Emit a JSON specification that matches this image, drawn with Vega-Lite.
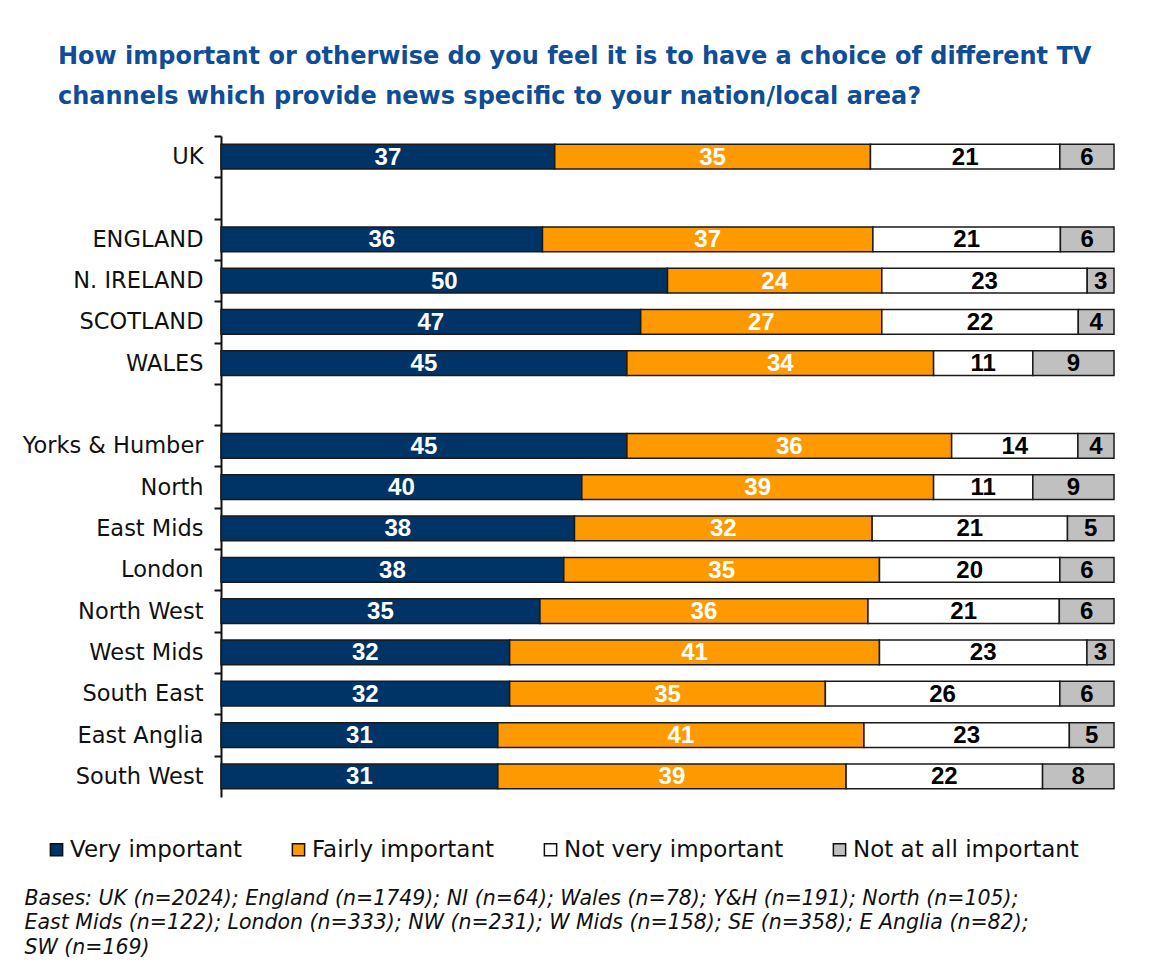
{
  "$schema": "https://vega.github.io/schema/vega-lite/v6.json",
  "width": 893,
  "height": 661,
  "autosize": {"type": "none"},
  "padding": {"left": 221, "top": 136, "right": 36, "bottom": 165},
  "background": "white",
  "title": {
    "text": ["How important or otherwise do you feel it is to have a choice of different TV", "channels which provide news specific to your nation/local area?"],
    "anchor": "start",
    "frame": "group",
    "dx": -163,
    "font": "DejaVu Sans",
    "fontWeight": "bold",
    "fontSize": 24,
    "lineHeight": 40,
    "color": "#0F4E96",
    "offset": 26
  },
  "data": {
    "values": [
      {"region": "UK", "cat": "Very important", "k": 1, "v": 37},
      {"region": "UK", "cat": "Fairly important", "k": 2, "v": 35},
      {"region": "UK", "cat": "Not very important", "k": 3, "v": 21},
      {"region": "UK", "cat": "Not at all important", "k": 4, "v": 6},
      {"region": "ENGLAND", "cat": "Very important", "k": 1, "v": 36},
      {"region": "ENGLAND", "cat": "Fairly important", "k": 2, "v": 37},
      {"region": "ENGLAND", "cat": "Not very important", "k": 3, "v": 21},
      {"region": "ENGLAND", "cat": "Not at all important", "k": 4, "v": 6},
      {"region": "N. IRELAND", "cat": "Very important", "k": 1, "v": 50},
      {"region": "N. IRELAND", "cat": "Fairly important", "k": 2, "v": 24},
      {"region": "N. IRELAND", "cat": "Not very important", "k": 3, "v": 23},
      {"region": "N. IRELAND", "cat": "Not at all important", "k": 4, "v": 3},
      {"region": "SCOTLAND", "cat": "Very important", "k": 1, "v": 47},
      {"region": "SCOTLAND", "cat": "Fairly important", "k": 2, "v": 27},
      {"region": "SCOTLAND", "cat": "Not very important", "k": 3, "v": 22},
      {"region": "SCOTLAND", "cat": "Not at all important", "k": 4, "v": 4},
      {"region": "WALES", "cat": "Very important", "k": 1, "v": 45},
      {"region": "WALES", "cat": "Fairly important", "k": 2, "v": 34},
      {"region": "WALES", "cat": "Not very important", "k": 3, "v": 11},
      {"region": "WALES", "cat": "Not at all important", "k": 4, "v": 9},
      {"region": "Yorks & Humber", "cat": "Very important", "k": 1, "v": 45},
      {"region": "Yorks & Humber", "cat": "Fairly important", "k": 2, "v": 36},
      {"region": "Yorks & Humber", "cat": "Not very important", "k": 3, "v": 14},
      {"region": "Yorks & Humber", "cat": "Not at all important", "k": 4, "v": 4},
      {"region": "North", "cat": "Very important", "k": 1, "v": 40},
      {"region": "North", "cat": "Fairly important", "k": 2, "v": 39},
      {"region": "North", "cat": "Not very important", "k": 3, "v": 11},
      {"region": "North", "cat": "Not at all important", "k": 4, "v": 9},
      {"region": "East Mids", "cat": "Very important", "k": 1, "v": 38},
      {"region": "East Mids", "cat": "Fairly important", "k": 2, "v": 32},
      {"region": "East Mids", "cat": "Not very important", "k": 3, "v": 21},
      {"region": "East Mids", "cat": "Not at all important", "k": 4, "v": 5},
      {"region": "London", "cat": "Very important", "k": 1, "v": 38},
      {"region": "London", "cat": "Fairly important", "k": 2, "v": 35},
      {"region": "London", "cat": "Not very important", "k": 3, "v": 20},
      {"region": "London", "cat": "Not at all important", "k": 4, "v": 6},
      {"region": "North West", "cat": "Very important", "k": 1, "v": 35},
      {"region": "North West", "cat": "Fairly important", "k": 2, "v": 36},
      {"region": "North West", "cat": "Not very important", "k": 3, "v": 21},
      {"region": "North West", "cat": "Not at all important", "k": 4, "v": 6},
      {"region": "West Mids", "cat": "Very important", "k": 1, "v": 32},
      {"region": "West Mids", "cat": "Fairly important", "k": 2, "v": 41},
      {"region": "West Mids", "cat": "Not very important", "k": 3, "v": 23},
      {"region": "West Mids", "cat": "Not at all important", "k": 4, "v": 3},
      {"region": "South East", "cat": "Very important", "k": 1, "v": 32},
      {"region": "South East", "cat": "Fairly important", "k": 2, "v": 35},
      {"region": "South East", "cat": "Not very important", "k": 3, "v": 26},
      {"region": "South East", "cat": "Not at all important", "k": 4, "v": 6},
      {"region": "East Anglia", "cat": "Very important", "k": 1, "v": 31},
      {"region": "East Anglia", "cat": "Fairly important", "k": 2, "v": 41},
      {"region": "East Anglia", "cat": "Not very important", "k": 3, "v": 23},
      {"region": "East Anglia", "cat": "Not at all important", "k": 4, "v": 5},
      {"region": "South West", "cat": "Very important", "k": 1, "v": 31},
      {"region": "South West", "cat": "Fairly important", "k": 2, "v": 39},
      {"region": "South West", "cat": "Not very important", "k": 3, "v": 22},
      {"region": "South West", "cat": "Not at all important", "k": 4, "v": 8}
    ]
  },
  "encoding": {
    "y": {
      "field": "region",
      "type": "nominal",
      "scale": {
        "domain": ["UK", " ", "ENGLAND", "N. IRELAND", "SCOTLAND", "WALES", "  ", "Yorks & Humber", "North", "East Mids", "London", "North West", "West Mids", "South East", "East Anglia", "South West"],
        "paddingInner": 0.4,
        "paddingOuter": 0.2
      },
      "axis": {
        "title": null,
        "labelFont": "DejaVu Sans",
        "labelFontSize": 22.5,
        "labelColor": "#111111",
        "labelPadding": 11,
        "labelLimit": 400,
        "tickOffset": -20.66,
        "labelOffset": 20.66,
        "tickSize": 7,
        "tickColor": "#111111",
        "tickWidth": 2,
        "domainColor": "#111111",
        "domainWidth": 2,
        "grid": false
      }
    },
    "x": {
      "field": "v",
      "type": "quantitative",
      "stack": "normalize",
      "axis": {
        "labels": false,
        "ticks": false,
        "domain": false,
        "grid": false,
        "title": ["Bases: UK (n=2024); England (n=1749); NI (n=64); Wales (n=78); Y&H (n=191); North (n=105);", "East Mids (n=122); London (n=333); NW (n=231); W Mids (n=158); SE (n=358); E Anglia (n=82);", "SW (n=169)"],
        "titleFont": "DejaVu Sans",
        "titleFontStyle": "italic",
        "titleFontWeight": "normal",
        "titleFontSize": 20.5,
        "titleColor": "#111111",
        "titleAlign": "left",
        "titleBaseline": "top",
        "titleAnchor": "start",
        "titleX": -197,
        "titleY": 91,
        "titleLineHeight": 24.5
      }
    },
    "order": {"field": "k", "type": "quantitative"}
  },
  "layer": [
    {
      "mark": {"type": "bar", "stroke": "#1a1a1a", "strokeWidth": 1.5},
      "encoding": {
        "color": {
          "field": "cat",
          "type": "nominal",
          "scale": {
            "domain": ["Very important", "Fairly important", "Not very important", "Not at all important"],
            "range": ["#003366", "#FF9900", "#FFFFFF", "#C0C0C0"]
          },
          "legend": {
            "title": null,
            "orient": "none",
            "direction": "horizontal",
            "legendX": -176,
            "legendY": 702,
            "symbolType": "square",
            "symbolSize": 150,
            "symbolStrokeColor": "#111111",
            "symbolStrokeWidth": 1.5,
            "labelFont": "DejaVu Sans",
            "labelFontSize": 23,
            "labelColor": "#111111",
            "labelOffset": 2,
            "labelLimit": 500,
            "columnPadding": 44
          }
        }
      }
    },
    {
      "mark": {"type": "text", "font": "Liberation Sans", "fontWeight": "bold", "fontSize": 24, "baseline": "middle", "align": "center", "dy": 1},
      "encoding": {
        "x": {"field": "v", "type": "quantitative", "stack": "normalize", "bandPosition": 0.5},
        "detail": {"field": "cat", "type": "nominal"},
        "text": {"field": "v", "type": "quantitative"},
        "color": {
          "field": "cat",
          "type": "nominal",
          "scale": {
            "domain": ["Very important", "Fairly important", "Not very important", "Not at all important"],
            "range": ["#FFFFFF", "#FFFFFF", "#000000", "#000000"]
          },
          "legend": null
        }
      }
    }
  ],
  "resolve": {"scale": {"color": "independent"}},
  "config": {"view": {"stroke": null}}
}
